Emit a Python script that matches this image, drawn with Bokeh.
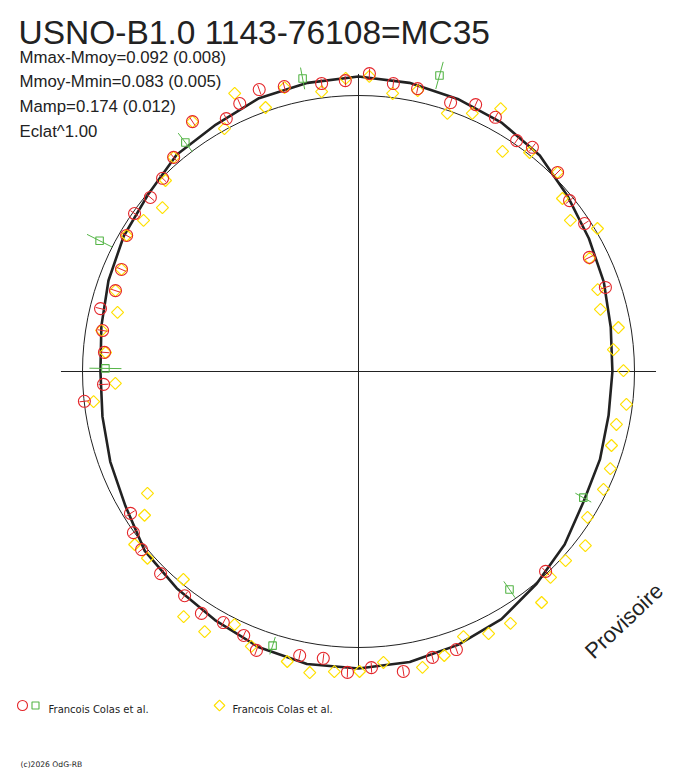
import numpy as np
from bokeh.plotting import figure
from bokeh.models import Range1d, Label
from bokeh.embed import file_html
from bokeh.resources import INLINE

# ---------------- data ----------------
title_text = "USNO-B1.0 1143-76108=MC35"
info_lines = ["Mmax-Mmoy=0.092 (0.008)", "Mmoy-Mmin=0.083 (0.005)",
              "Mamp=0.174 (0.012)", "Eclat^1.00"]
legend_labels = ["Francois Colas et al.", "Francois Colas et al."]
copyright_text = "(c)2026 OdG-RB"
stamp_text = "Provisoire"

# fitted light curve: rotation phase (deg, clockwise from top) and relative flux
model_phase_deg = [0, 10, 20, 30, 40, 50, 60, 70, 80, 90, 100, 110,
                   120, 130, 140, 150, 160, 170, 180, 190, 200, 210, 220, 230,
                   240, 250, 260, 270, 280, 290, 300, 310, 320, 330, 340, 350]
model_flux = [1.069, 1.062, 1.051, 1.040, 1.022, 0.989, 0.964, 0.946, 0.928, 0.920, 0.920, 0.931,
              0.942, 0.975, 1.004, 1.036, 1.054, 1.069, 1.076, 1.076, 1.062, 1.040, 1.025, 1.011,
              0.975, 0.957, 0.942, 0.935, 0.946, 0.964, 0.982, 0.996, 1.025, 1.033, 1.054, 1.062]
mean_flux = 1.0

# series 1 (red circles)
red_phase_deg = [340.6, 345.4, 352.7, 357.4, 2.1, 6.9, 11.8, 18.9, 23.7, 28.3, 34.4, 37.8,
                 45.0, 51.0, 56.8, 63.7, 71.2, 136.9, 160.6, 165.5, 171.5, 177.5, 182.1, 187.0,
                 191.7, 200.1, 203.5, 208.3, 213.0, 217.8, 224.4, 230.6, 234.4, 238.1, 263.8, 267.1,
                 274.3, 279.1, 283.7, 288.4, 293.3, 300.4, 305.2, 309.9, 314.6, 319.2, 326.4, 332.4,
                 336.1]
red_flux = [1.083, 1.067, 1.052, 1.055, 1.080, 1.051, 1.047, 1.030, 1.056, 1.046, 1.014, 1.028,
            1.020, 0.984, 0.979, 0.933, 0.945, 0.992, 1.068, 1.070, 1.099, 1.074, 1.091, 1.047,
            1.051, 1.076, 1.043, 1.033, 1.045, 1.028, 1.025, 1.017, 1.003, 0.973, 0.999, 0.925,
            0.923, 0.939, 0.962, 0.928, 0.935, 0.974, 0.993, 0.983, 0.997, 1.025, 1.087, 1.034,
            1.062]
red_err = [0.018] * len(red_flux)

# series 1 (green squares)
green_phase_deg = [349.2, 15.3, 322.9, 296.8, 270.7, 119.3, 145.3, 197.4]
green_flux = [1.081, 1.112, 1.040, 1.051, 0.917, 0.934, 0.961, 1.041]
green_err = [0.040, 0.051, 0.043, 0.051, 0.058, 0.033, 0.036, 0.033]

# series 2 (yellow diamonds)
yellow_phase_deg = [336.0, 340.6, 345.4, 352.5, 357.5, 2.1, 7.0, 11.9, 19.0, 23.8, 28.4, 33.2,
                    38.0, 45.0, 49.7, 54.5, 59.1, 63.9, 71.1, 75.6, 80.4, 85.1, 89.8, 97.0,
                    101.6, 106.3, 111.1, 115.7, 122.5, 127.5, 132.4, 137.0, 141.6, 148.9, 153.6, 158.4,
                    163.2, 167.8, 175.1, 179.8, 184.6, 189.2, 193.8, 201.3, 206.1, 210.6, 215.5, 220.1,
                    228.5, 232.3, 236.1, 240.0, 263.5, 267.2, 274.3, 279.1, 283.8, 288.4, 293.3, 300.4,
                    305.1, 309.9, 314.7, 319.2, 326.4, 331.1]
yellow_flux = [1.103, 1.014, 1.063, 1.023, 1.063, 1.070, 1.015, 1.040, 0.989, 1.022, 1.083, 0.953,
               1.007, 1.020, 0.969, 0.943, 1.009, 0.932, 0.916, 0.905, 0.955, 0.927, 0.960, 0.978,
               0.954, 0.955, 0.978, 0.985, 0.984, 1.036, 1.016, 1.020, 1.068, 1.066, 1.060, 1.033,
               1.075, 1.097, 1.058, 1.087, 1.091, 1.105, 1.082, 1.069, 1.021, 1.095, 1.091, 0.985,
               1.021, 1.025, 0.934, 0.883, 0.966, 0.882, 0.919, 0.943, 0.899, 0.928, 0.935, 0.974,
               0.952, 0.926, 0.984, 1.025, 1.087, 1.005]

# ---------------- layout / style ----------------
W, H = 688, 768
CX, CY = 358, 397          # pole of the polar diagram (figure px, y up)
R0 = 276                   # pixels for relative flux 1.0
AXIS_EXT = 1.078

RED = "#e4262a"
GREEN = "#55b547"
YELLOW = "#ffe000"
INK = "#222222"
FONT = "Liberation Sans"


def polar(phase_deg, flux):
    th = np.radians(np.asarray(phase_deg, dtype=float))
    f = np.asarray(flux, dtype=float)
    return CX + R0 * f * np.sin(th), CY + R0 * f * np.cos(th)


def radial_bars(phase_deg, flux, err):
    f = np.asarray(flux, dtype=float)
    e = np.asarray(err, dtype=float)
    x0, y0 = polar(phase_deg, f - e)
    x1, y1 = polar(phase_deg, f + e)
    return x0, y0, x1, y1


p = figure(width=W, height=H, x_range=Range1d(0, W), y_range=Range1d(0, H),
           output_backend="svg", toolbar_location=None,
           x_axis_type=None, y_axis_type=None, min_border=0,
           outline_line_color=None, background_fill_color="white",
           border_fill_color="white")
p.min_border_left = p.min_border_right = p.min_border_top = p.min_border_bottom = 0

# axes through the pole
p.segment(x0=[CX - R0 * AXIS_EXT, CX], y0=[CY, CY - R0 * AXIS_EXT],
          x1=[CX + R0 * AXIS_EXT, CX], y1=[CY, CY + R0 * AXIS_EXT],
          line_color=INK, line_width=1)

# mean-brightness circle
p.circle(x=[CX], y=[CY], radius=R0 * mean_flux, fill_color=None,
         line_color=INK, line_width=1)

# fitted light curve (closed)
mx, my = polar(model_phase_deg + model_phase_deg[:1], model_flux + model_flux[:1])
p.line(mx, my, line_color=INK, line_width=2.6, line_join="round")

# yellow diamonds
yx, yy = polar(yellow_phase_deg, yellow_flux)
p.scatter(yx, yy, marker="square", angle=np.pi / 4, size=8.5,
          fill_color=None, line_color=YELLOW, line_width=1.2)

# red circles with radial error ticks
x0, y0, x1, y1 = radial_bars(red_phase_deg, red_flux, red_err)
p.segment(x0, y0, x1, y1, line_color=RED, line_width=1)
rx, ry = polar(red_phase_deg, red_flux)
p.scatter(rx, ry, marker="circle", size=12, fill_color=None,
          line_color=RED, line_width=1.1)

# green squares with radial error bars
x0, y0, x1, y1 = radial_bars(green_phase_deg, green_flux, green_err)
p.segment(x0, y0, x1, y1, line_color=GREEN, line_width=1)
gx, gy = polar(green_phase_deg, green_flux)
p.scatter(gx, gy, marker="square", size=7.5, fill_color=None,
          line_color=GREEN, line_width=1.1)

# ---------------- texts ----------------
p.add_layout(Label(x=18, y=H - 32.3, text=title_text, text_font=FONT,
                   text_font_size="33.5px", text_color=INK, text_baseline="alphabetic"))
for i, line in enumerate(info_lines):
    p.add_layout(Label(x=19, y=H - 56.7 - 24.6 * i, text=line, text_font=FONT,
                       text_font_size="16.8px", text_color=INK, text_baseline="alphabetic"))

p.add_layout(Label(x=588, y=H - 654, text=stamp_text, text_font=FONT, angle=0.76,
                   text_font_size="22px", text_color=INK, text_baseline="alphabetic"))

# legend (drawn manually)
p.scatter([22], [H - 705], marker="circle", size=10, fill_color=None, line_color=RED, line_width=1.1)
p.scatter([35], [H - 705], marker="square", size=7, fill_color=None, line_color=GREEN, line_width=1.1)
p.scatter([219], [H - 705], marker="square", angle=np.pi / 4, size=7.5, fill_color=None,
          line_color=YELLOW, line_width=1.2)
for lx, lab in zip([48, 232], legend_labels):
    p.add_layout(Label(x=lx, y=H - 709, text=lab, text_font="DejaVu Sans",
                       text_font_size="10px", text_color=INK, text_baseline="alphabetic"))

p.add_layout(Label(x=20, y=H - 763.5, text=copyright_text, text_font="DejaVu Sans",
                   text_font_size="7.6px", text_color=INK, text_baseline="alphabetic"))

open("out.html", "w").write(file_html(p, INLINE))
